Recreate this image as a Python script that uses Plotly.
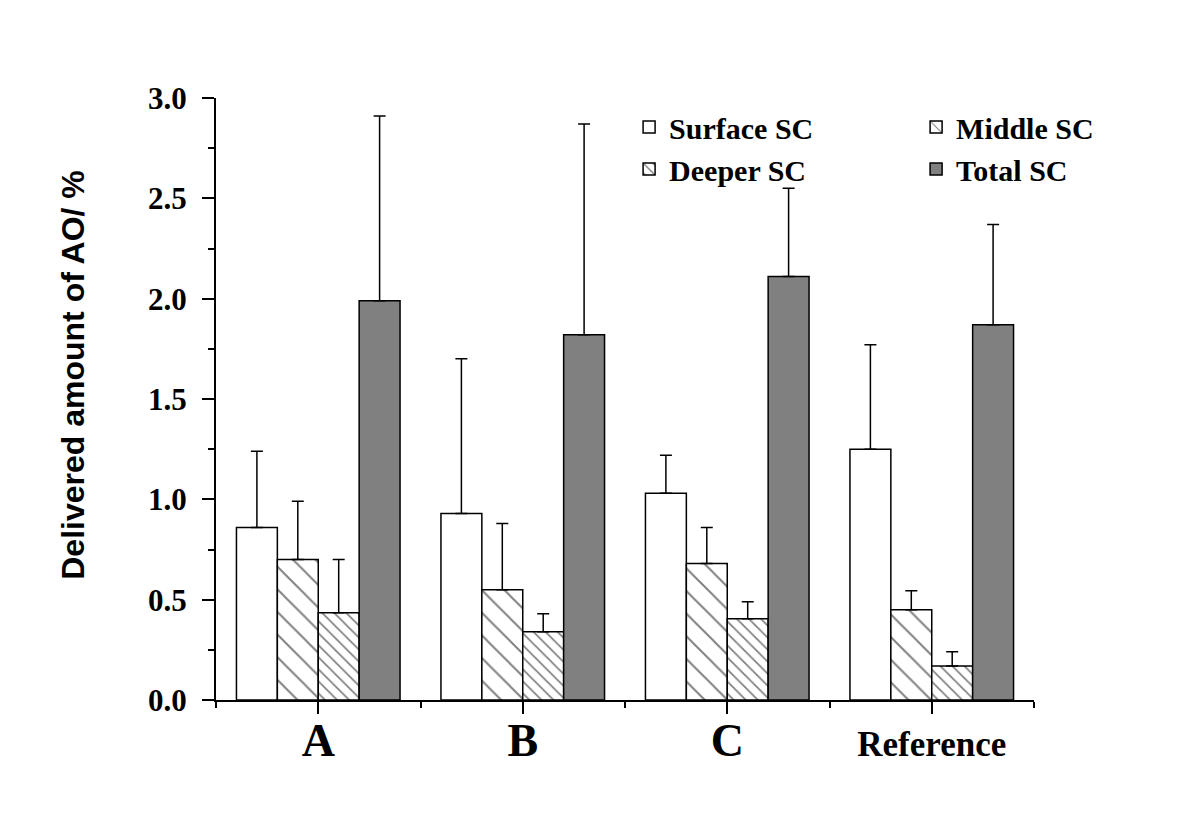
import plotly.graph_objects as go

categories = ["A", "B", "C", "Reference"]
tick_labels = ["<span style='font-size:46px'>A</span>",
               "<span style='font-size:46px'>B</span>",
               "<span style='font-size:46px'>C</span>",
               "<span style='font-size:35px'>Reference</span>"]
series_names = ["Surface SC", "Middle SC", "Deeper SC", "Total SC"]
surface = [0.86, 0.93, 1.03, 1.25]
surface_top = [1.24, 1.70, 1.22, 1.77]
middle = [0.70, 0.55, 0.68, 0.45]
middle_top = [0.99, 0.88, 0.86, 0.545]
deeper = [0.435, 0.34, 0.405, 0.17]
deeper_top = [0.70, 0.43, 0.49, 0.24]
total = [1.99, 1.82, 2.11, 1.87]
total_top = [2.91, 2.87, 2.55, 2.37]
y_title = "Delivered amount of AO/ %"

values = [surface, middle, deeper, total]
tops = [surface_top, middle_top, deeper_top, total_top]
fills = ["white", "white", "white", "#808080"]
patterns = [None, dict(shape="\\", size=16, solidity=0.12, fgcolor="black", bgcolor="white"),
            dict(shape="\\", size=8.5, solidity=0.2, fgcolor="black", bgcolor="white"), None]

xpos = list(range(len(categories)))
fig = go.Figure()
for name, vals, tp, fc, pat in zip(series_names, values, tops, fills, patterns):
    marker = dict(color=fc, line=dict(color="black", width=1.5))
    if pat:
        marker["pattern"] = pat
    fig.add_trace(go.Bar(
        x=xpos, y=vals, name=name, marker=marker,
        error_y=dict(type="data", symmetric=False,
                     array=[t - v for t, v in zip(tp, vals)],
                     arrayminus=[0] * len(vals),
                     color="black", thickness=1.5, width=6),
    ))

fig.update_layout(
    width=1200, height=839,
    paper_bgcolor="white", plot_bgcolor="white",
    barmode="group", bargap=0.2, bargroupgap=0,
    margin=dict(l=208, r=174, t=90, b=147, autoexpand=False),
    font=dict(family="Liberation Serif", color="black"),
    legend=dict(orientation="h", x=0.505, y=0.995, xanchor="left", yanchor="top",
                entrywidth=242, entrywidthmode="pixels",
                font=dict(family="Liberation Serif", size=30, color="black", weight="bold"),
                bgcolor="rgba(0,0,0,0)", tracegroupgap=0),
    showlegend=True,
    annotations=[dict(text=y_title, textangle=-90, xref="paper", yref="paper",
                      x=-0.175, y=0.54, xanchor="center", yanchor="middle", showarrow=False,
                      font=dict(family="Liberation Sans", size=32, color="black", weight="bold"))],
)
fig.update_xaxes(
    range=[-0.5, 3.5], tickvals=xpos, ticktext=tick_labels,
    showline=True, linecolor="black", linewidth=2, showgrid=False, zeroline=False,
    ticks="outside", ticklen=12, tickwidth=2, tickcolor="black",
    tickfont=dict(family="Liberation Serif", size=35, color="black", weight="bold"),
    minor=dict(tickvals=[-0.5, 0.5, 1.5, 2.5, 3.5], ticks="outside", ticklen=6,
               tickwidth=2, tickcolor="black", showgrid=False),
)
fig.update_yaxes(
    range=[0, 3.0], tickvals=[0, 0.5, 1.0, 1.5, 2.0, 2.5, 3.0],
    ticktext=["0.0", "0.5", "1.0", "1.5", "2.0", "2.5", "3.0"],
    showline=True, linecolor="black", linewidth=2, showgrid=False, zeroline=False,
    ticks="outside", ticklen=12, tickwidth=2, tickcolor="black", ticklabelstandoff=9,
    tickfont=dict(family="Liberation Serif", size=31, color="black", weight="bold"),
    minor=dict(dtick=0.25, ticks="outside", ticklen=6, tickwidth=2, tickcolor="black", showgrid=False),
)
fig.write_html("out.html")
